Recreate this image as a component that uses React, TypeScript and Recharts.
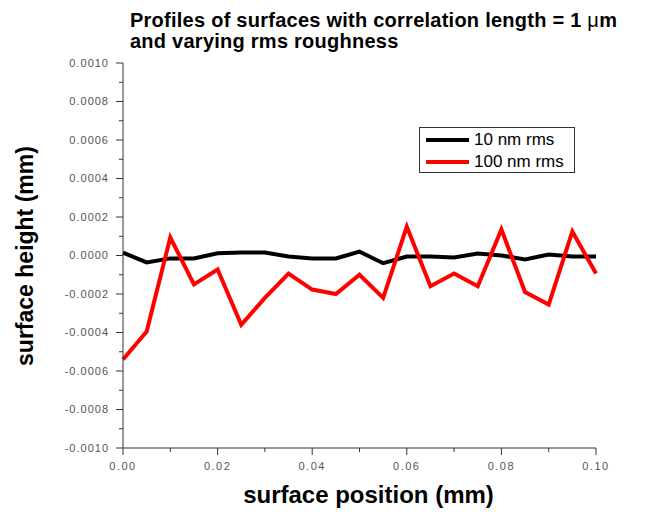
import React from 'react';
import { LineChart, Line, XAxis, YAxis } from 'recharts';

const positions = [0, 0.005, 0.01, 0.015, 0.02, 0.025, 0.03, 0.035, 0.04, 0.045, 0.05, 0.055, 0.06, 0.065, 0.07, 0.075, 0.08, 0.085, 0.09, 0.095, 0.1];
const rms10 = [0.000015, -0.000036, -0.000015, -0.000015, 0.000012, 0.000015, 0.000015, -0.000005, -0.000015, -0.000015, 0.00002, -0.00004, -0.000005, -0.000005, -0.00001, 0.00001, 0.0, -0.00002, 0.000005, -0.000005, -0.000005];
const rms100 = [-0.00054, -0.000395, 0.000094, -0.00015, -0.000073, -0.00036, -0.00022, -0.000094, -0.000177, -0.0002, -0.0001, -0.00022, 0.00015, -0.00016, -0.000094, -0.00016, 0.000135, -0.00019, -0.000255, 0.000125, -0.000094];

const seriesNames = ['10 nm rms', '100 nm rms'];
const seriesColors = ['#000000', '#ff0000'];

const xTicks = [0, 0.01, 0.02, 0.03, 0.04, 0.05, 0.06, 0.07, 0.08, 0.09, 0.1];
const yTicks = [-0.001, -0.0009, -0.0008, -0.0007, -0.0006, -0.0005, -0.0004, -0.0003, -0.0002, -0.0001, 0, 0.0001, 0.0002, 0.0003, 0.0004, 0.0005, 0.0006, 0.0007, 0.0008, 0.0009, 0.001];

const data = positions.map((p, i) => ({ x: p, a: rms10[i], b: rms100[i] }));

const FONT = "Arial, 'Liberation Sans', sans-serif";
const TS = 8;
const TM = 6;
const XTS = 7;
const XTM = 7;

const YTick = (props: any) => {
  const { x, y, payload } = props;
  const v = payload.value as number;
  const major = Math.round(v * 10000) % 2 === 0;
  const axisX = x + TS + TM;
  return (
    <g>
      <line x1={axisX - (major ? 7 : 4)} x2={axisX} y1={y} y2={y} stroke="#333" strokeWidth={1} />
      {major && (
        <text x={x} y={y} dy="0.35em" textAnchor="end" fontSize={11} fill="#555" fontFamily={FONT} letterSpacing={1}>
          {v.toFixed(4)}
        </text>
      )}
    </g>
  );
};

const XTick = (props: any) => {
  const { x, y, payload } = props;
  const v = payload.value as number;
  const major = Math.round(v * 100) % 2 === 0;
  const axisY = y - XTS - XTM;
  return (
    <g>
      <line x1={x} x2={x} y1={axisY} y2={axisY + (major ? 7 : 4)} stroke="#333" strokeWidth={1} />
      {major && (
        <text x={x} y={y} dy="0.71em" textAnchor="middle" fontSize={11} fill="#555" fontFamily={FONT} letterSpacing={1.5}>
          {v.toFixed(2)}
        </text>
      )}
    </g>
  );
};

export default function App() {
  return (
    <div style={{ position: 'absolute', left: 0, top: 0, width: 665, height: 512, background: '#fff', fontFamily: FONT }}>
      <LineChart width={665} height={512} data={data} margin={{ top: 63, right: 69, bottom: 24, left: 43 }}>
        <XAxis
          dataKey="x"
          type="number"
          domain={[0, 0.1]}
          ticks={xTicks}
          interval={0}
          height={40}
          tickSize={XTS}
          tickMargin={XTM}
          tickLine={false}
          stroke="#333"
          tick={<XTick />}
        />
        <YAxis
          type="number"
          domain={[-0.001, 0.001]}
          ticks={yTicks}
          interval={0}
          width={80}
          tickSize={TS}
          tickMargin={TM}
          tickLine={false}
          stroke="#333"
          tick={<YTick />}
        />
        <Line type="linear" dataKey="a" stroke={seriesColors[0]} strokeWidth={4} dot={false} isAnimationActive={false} />
        <Line type="linear" dataKey="b" stroke={seriesColors[1]} strokeWidth={4} dot={false} isAnimationActive={false} />
      </LineChart>
      <div style={{ position: 'absolute', left: 130, top: 10, fontSize: 20, fontWeight: 'bold', lineHeight: '21px', letterSpacing: 0.25, color: '#000', whiteSpace: 'nowrap' }}>
        <div>Profiles of surfaces with correlation length = 1 <span style={{ fontWeight: 'normal' }}>μ</span>m</div>
        <div>and varying rms roughness</div>
      </div>
      <div style={{ position: 'absolute', left: 0, top: 481, width: 737, textAlign: 'center', fontSize: 24, fontWeight: 'bold', color: '#000', whiteSpace: 'nowrap' }}>
        surface position (mm)
      </div>
      <div style={{ position: 'absolute', left: 25, top: 256, width: 0, height: 0 }}>
        <div style={{ position: 'absolute', left: -150, top: -14, width: 300, lineHeight: '28px', textAlign: 'center', fontSize: 23, fontWeight: 'bold', transform: 'rotate(-90deg)', whiteSpace: 'nowrap', color: '#000' }}>
          surface height (mm)
        </div>
      </div>
      <div style={{ position: 'absolute', left: 419, top: 127, width: 156, height: 46, border: '1px solid #333', boxSizing: 'border-box', background: '#fff' }}>
        {seriesNames.map((n, i) => (
          <div key={n} style={{ display: 'flex', alignItems: 'center', height: 22, marginTop: i === 0 ? 1 : 0 }}>
            <div style={{ width: 43, height: 4, background: seriesColors[i], marginLeft: 6, marginRight: 5 }} />
            <span style={{ fontSize: 17, color: '#000' }}>{n}</span>
          </div>
        ))}
      </div>
    </div>
  );
}
